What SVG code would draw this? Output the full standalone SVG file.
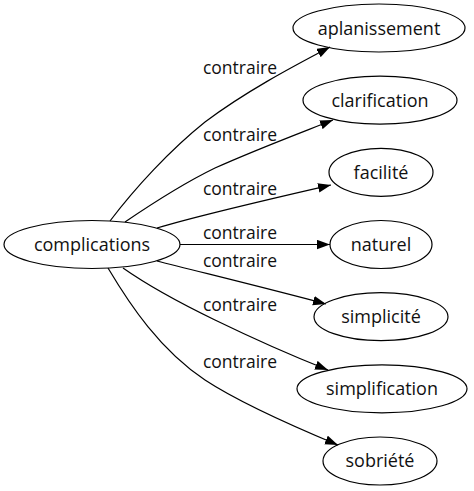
<svg xmlns="http://www.w3.org/2000/svg" width="474" height="491" viewBox="0 0 474 491">
<defs>
<marker id="arr" markerUnits="userSpaceOnUse" markerWidth="14" markerHeight="10" refX="13" refY="4.7" orient="auto">
<path d="M0,0 L13,4.7 L0,9.4 Z" fill="#000"/>
</marker>
<style>
.n ellipse{fill:none;stroke:#000;stroke-width:1.2}
.n text,.lbl text{font-family:"Open Sans","DejaVu Sans",sans-serif;font-size:17.5px;fill:#111;text-anchor:middle}
.n text{font-size:18px}
.e path{fill:none;stroke:#000;stroke-width:1.2;marker-end:url(#arr)}
</style>
</defs>
<rect width="474" height="491" fill="#fff"/>
<g id="edges" class="e">
<path d="M110,221 C135,188 170,150 205,122 C245,92 290,68 330,47"/>
<path d="M125,222 C150,205 180,185 215,168 C255,150 295,135 333,120"/>
<path d="M157,228 C200,215 270,199 331,185"/>
<path d="M180,244.5 L330,244.5"/>
<path d="M157,261 C200,272 270,289 326,304"/>
<path d="M123,268 C150,287 180,303 215,320 C250,337 290,355 328,370"/>
<path d="M108,268 C130,305 160,350 205,380 C240,403 290,425 338,445"/>
</g>
<g id="labels" class="lbl">
<text x="240" y="74">contraire</text>
<text x="240" y="141">contraire</text>
<text x="240" y="195">contraire</text>
<text x="240" y="239">contraire</text>
<text x="240" y="267">contraire</text>
<text x="240" y="311">contraire</text>
<text x="240" y="368">contraire</text>
</g>
<g id="n-complications" class="n"><ellipse cx="92" cy="244.5" rx="88" ry="24"/><text x="92" y="251">complications</text></g>
<g id="n-aplanissement" class="n"><ellipse cx="379" cy="28" rx="86" ry="24"/><text x="379" y="34.5">aplanissement</text></g>
<g id="n-clarification" class="n"><ellipse cx="380" cy="100.2" rx="77" ry="24"/><text x="380" y="106.5">clarification</text></g>
<g id="n-facilite" class="n"><ellipse cx="381" cy="172.3" rx="52" ry="24"/><text x="381" y="178.5">facilité</text></g>
<g id="n-naturel" class="n"><ellipse cx="381" cy="244.5" rx="51" ry="24"/><text x="381" y="250.5">naturel</text></g>
<g id="n-simplicite" class="n"><ellipse cx="381" cy="316.7" rx="67" ry="24"/><text x="381" y="323">simplicité</text></g>
<g id="n-simplification" class="n"><ellipse cx="382" cy="388.8" rx="85" ry="24"/><text x="382" y="395">simplification</text></g>
<g id="n-sobriete" class="n"><ellipse cx="380" cy="461" rx="57" ry="24"/><text x="380" y="467">sobriété</text></g>
</svg>
